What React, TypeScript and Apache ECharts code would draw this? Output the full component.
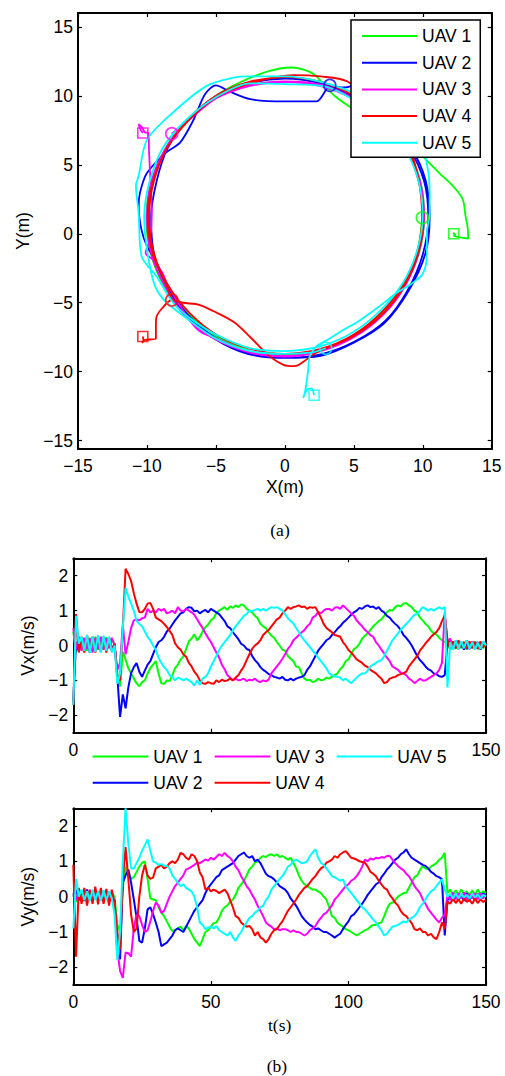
import React, { useEffect, useRef } from 'react';
import * as echarts from 'echarts';

const UAV_NAMES = ['UAV 1', 'UAV 2', 'UAV 3', 'UAV 4', 'UAV 5'];
const UAV_COLORS = ['#00ff00', '#0000ff', '#ff00ff', '#ff0000', '#00ffff'];

const XY_TICKS = [-15, -10, -5, 0, 5, 10, 15];
const V_TICKS = [-2, -1, 0, 1, 2];
const T_TICKS = [0, 50, 100, 150];
const VX_T_LABELS = [0, 150];

// start (square) and final (circle) positions
const START_POS = [[12.25, 0.0], [5.7, 11.1], [-10.3, 7.3], [-10.3, -7.45], [2.12, -11.7]];
const END_POS = [[9.97, 1.16], [3.26, 10.75], [-8.2, 7.25], [-8.2, -4.8], [2.97, -8.3]];

const XY_UAV1 = [
  [12.25, 0.0], [12.4, -0.1], [12.2, 0.08], [12.35, -0.05], [12.25, -0.15], [12.9, -0.3], [13.3, -0.35], [13.25, 0.5],
  [13.1, 1.3], [12.9, 2.5], [12.2, 3.45], [11.2, 4.4], [10.5, 5.1], [9.6, 6.0],
  [8.2, 7.2], [7.2, 8.2], [5.1, 9.8], [2.7, 10.9], [0.1, 11.3], [-2.5, 10.95], [-4.9, 9.95], [-7.0, 8.3], [-8.6, 6.3],
  [-9.6, 3.8], [-9.95, 1.2], [-9.6, -1.4], [-8.6, -3.75], [-7.0, -5.8], [-4.9, -7.4], [-2.5, -8.5], [0.1, -8.85],
  [2.6, -8.45], [5.0, -7.4], [7.1, -5.8], [8.7, -3.7], [9.75, -1.3], [10.1, 1.3], [9.8, 3.9], [8.8, 6.2],
  [7.3, 7.8], [6.4, 8.3], [5.2, 8.9], [3.6, 10.0], [2.05, 11.6], [0.5, 12.05], [-1.1, 11.8], [-3.2, 11.0], [-5.0, 10.0],
  [-7.1, 8.2], [-8.7, 6.1], [-9.7, 3.7], [-10.05, 1.1], [-9.7, -1.5], [-8.7, -3.9], [-7.1, -5.95], [-5.0, -7.5],
  [-2.6, -8.5], [0.0, -8.8], [2.6, -8.4], [5.0, -7.35], [7.0, -5.75], [8.6, -3.7], [9.6, -1.3], [9.97, 1.16],
];

const XY_UAV2 = [
  [5.7, 11.1], [5.3, 11.4], [5.0, 11.75], [5.1, 12.15], [5.4, 12.4], [5.9, 12.45], [5.6, 12.0], [5.75, 11.4], [5.6, 11.05],
  [4.3, 10.6], [3.3, 10.7], [2.3, 9.6], [0.0, 9.6], [-2.5, 9.75], [-4.0, 10.3], [-5.0, 10.75], [-5.8, 10.1], [-6.6, 8.3],
  [-7.6, 6.6], [-8.6, 5.9], [-10.0, 4.4], [-10.5, 3.0], [-10.6, 2.0], [-10.4, 0.3], [-10.0, -0.9], [-9.3, -2.1], [-8.6, -3.6],
  [-7.1, -5.8], [-5.1, -7.5], [-2.6, -8.6], [0.0, -9.0], [2.6, -8.75], [5.1, -7.8], [7.3, -6.3], [8.9, -4.1], [10.0, -1.5],
  [10.4, 1.2], [10.1, 3.8], [9.0, 6.2], [7.3, 8.2], [5.0, 9.9], [2.6, 10.9], [0.0, 11.25], [-2.6, 10.9], [-5.0, 9.9],
  [-7.0, 8.3], [-8.5, 6.2], [-9.3, 3.8], [-9.7, 1.2], [-9.5, -1.4], [-8.8, -3.3], [-7.3, -5.8], [-5.1, -7.6], [-2.7, -8.7],
  [0.0, -9.0], [2.6, -8.85], [5.0, -7.9], [7.2, -6.5], [9.0, -4.1], [10.2, -1.4], [10.5, 1.2], [10.2, 3.9], [9.1, 6.3],
  [7.3, 8.3], [5.0, 9.8], [3.26, 10.75],
];

const XY_UAV3 = [
  [-10.3, 7.3], [-10.5, 7.6], [-10.6, 7.95], [-10.35, 7.7], [-10.15, 7.35], [-9.9, 7.3],
  [-9.85, 6.0], [-9.8, 4.9], [-9.7, 3.0], [-9.65, 1.3], [-9.78, -0.4], [-10.1, -1.4], [-9.55, -1.9], [-8.9, -2.8], [-8.5, -3.7],
  [-7.1, -6.0], [-6.2, -7.05], [-4.95, -7.6], [-2.6, -8.55], [0.0, -8.85], [2.6, -8.5], [5.0, -7.5], [7.1, -5.9], [8.7, -3.8],
  [9.7, -1.4], [10.1, 1.2], [9.8, 3.8], [8.8, 6.2], [7.2, 8.2], [5.0, 9.75], [2.6, 10.7], [0.0, 11.0], [-2.6, 10.7],
  [-5.0, 9.8], [-7.1, 8.2], [-8.7, 6.1], [-9.7, 3.7], [-10.0, 1.2], [-9.7, -1.4], [-8.7, -3.8], [-7.2, -6.0], [-5.3, -7.5],
  [-2.6, -8.6], [0.0, -8.9], [2.6, -8.5], [5.0, -7.5], [7.1, -5.9], [8.7, -3.8], [9.7, -1.3], [10.05, 1.2], [9.75, 3.8],
  [8.75, 6.2], [7.2, 8.2], [5.0, 9.8], [2.6, 10.8], [0.0, 11.05], [-2.6, 10.75], [-5.0, 9.8], [-6.9, 8.3], [-8.2, 7.25],
];

const XY_UAV4 = [
  [-10.3, -7.45], [-10.25, -7.75], [-10.35, -7.9], [-10.2, -7.7],
  [-9.35, -7.6], [-9.35, -6.6], [-9.3, -6.0], [-8.9, -5.4], [-8.2, -4.8], [-7.4, -5.0], [-6.2, -5.15], [-5.2, -5.6],
  [-3.7, -6.4], [-2.5, -7.5], [-1.2, -8.8], [-0.1, -9.5], [0.7, -9.6], [1.6, -9.1], [2.3, -8.6],
  [5.0, -7.4], [7.1, -5.8], [8.7, -3.7], [9.7, -1.3], [10.05, 1.2], [9.7, 3.8], [8.8, 6.3], [7.3, 8.3], [5.1, 9.95],
  [2.6, 11.0], [0.0, 11.35], [-2.6, 11.0], [-5.0, 10.0], [-7.0, 8.3], [-8.55, 6.2], [-9.5, 3.8], [-9.85, 1.2], [-9.5, -1.4],
  [-8.5, -3.7], [-6.9, -5.75], [-4.9, -7.35], [-2.5, -8.35], [0.0, -8.7], [2.6, -8.35], [5.0, -7.3], [7.0, -5.7], [8.6, -3.6],
  [9.6, -1.3], [9.95, 1.2], [9.7, 3.9], [8.8, 6.8], [7.1, 9.0], [4.5, 11.05], [2.6, 11.4], [0.6, 11.5], [-2.5, 10.9],
  [-5.0, 9.9], [-7.0, 8.2], [-8.6, 6.1], [-9.6, 3.7], [-9.95, 1.2], [-9.6, -1.4], [-8.6, -3.7], [-8.2, -4.8],
];

const XY_UAV5 = [
  [2.12, -11.7], [1.93, -11.2], [1.6, -11.3], [1.33, -11.9], [1.45, -11.5],
  [1.57, -10.8], [1.7, -9.8], [1.8, -8.9], [2.3, -8.15], [3.14, -7.66], [4.2, -7.0], [5.4, -6.3], [6.8, -5.3], [8.1, -4.3],
  [9.2, -3.6], [10.0, -2.9], [10.3, -1.5], [10.3, 0.0], [10.5, 1.5], [10.5, 3.0], [10.4, 4.5], [10.0, 6.1], [9.0, 7.4],
  [7.6, 8.6], [5.2, 10.1], [2.6, 11.0], [0.0, 11.4], [-2.5, 11.4], [-3.8, 11.3], [-5.7, 10.7], [-8.1, 8.8], [-10.0, 6.8],
  [-10.6, 4.2], [-10.8, 3.5], [-10.6, 1.5], [-10.4, -1.6], [-9.3, -3.1], [-8.1, -5.0], [-6.9, -6.1], [-5.0, -7.3],
  [-2.5, -8.3], [0.0, -8.5], [2.6, -8.15], [5.0, -7.1], [7.0, -5.5], [8.6, -3.5], [9.6, -1.2], [10.0, 1.3], [9.7, 3.8],
  [8.7, 6.2], [7.1, 8.2], [5.0, 9.7], [3.0, 10.65], [0.0, 10.85], [-2.5, 10.9], [-5.0, 9.9], [-7.1, 8.3], [-8.8, 6.3],
  [-9.8, 3.8], [-10.2, 1.2], [-10.0, -1.1], [-9.5, -3.55], [-8.8, -4.76], [-7.3, -6.0], [-5.0, -7.6], [-2.5, -8.5],
  [0.0, -8.7], [2.0, -8.6], [2.97, -8.3],
];

// sampling times of the velocity records (s)
const TIME = Array.from({ length: 151 }, (_, i) => i);

const VX_UAV1 = [
  0.4, -0.2, 0.25, -0.1, 0.2, -0.15, 0.22, -0.05, 0.25, -0.12,
  0.2, -0.1, 0.24, -0.08, 0.18, 0.05, -0.8, -1.17, -0.18, -0.4,
  -0.65, -0.8, -0.95, -1.08, -1.17, -1.05, -1.0, -0.8, -0.65, -0.55,
  -0.45, -0.8, -1.08, -1.1, -1.0, -1.02, -0.85, -0.65, -0.55, -0.4,
  -0.32, -0.1, 0.12, 0.2, 0.32, 0.15, 0.25, 0.4, 0.52, 0.6,
  0.72, 0.78, 0.93, 1.0, 1.05, 1.1, 1.02, 1.12, 1.08, 1.15,
  1.1, 1.18, 1.15, 1.05, 1.0, 0.95, 0.85, 0.78, 0.62, 0.55,
  0.5, 0.38, 0.28, 0.22, 0.1, 0.0, -0.12, -0.15, -0.3, -0.38,
  -0.45, -0.6, -0.62, -0.8, -0.95, -1.0, -0.98, -1.05, -1.02, -0.95,
  -1.0, -0.98, -0.92, -0.95, -0.9, -0.85, -0.8, -0.68, -0.6, -0.45,
  -0.4, -0.25, -0.1, -0.05, 0.05, 0.2, 0.28, 0.35, 0.45, 0.55,
  0.62, 0.7, 0.75, 0.85, 0.95, 1.02, 1.0, 1.1, 1.15, 1.12,
  1.2, 1.22, 1.15, 1.1, 1.0, 0.95, 0.8, 0.72, 0.62, 0.55,
  0.42, 0.35, 0.32, 0.22, 0.15, 0.1, 0.05, -0.12, 0.1, -0.1,
  0.12, -0.08, 0.1, -0.12, 0.08, -0.05, 0.12, -0.1, 0.05, -0.08,
  0.05,
];
const VX_UAV2 = [
  -1.6, 0.1, -0.15, 0.2, -0.1, 0.15, -0.2, 0.18, -0.05, 0.2,
  -0.15, 0.18, -0.1, 0.2, -0.12, 0.05, -0.9, -2.05, -1.4, -1.8,
  -1.2, -0.8, -0.62, -0.5, -0.75, -0.9, -0.72, -0.55, -0.45, -0.25,
  -0.05, 0.1, 0.15, 0.25, 0.4, 0.48, 0.6, 0.72, 0.82, 0.92,
  0.95, 1.05, 1.1, 1.08, 0.98, 1.0, 0.92, 0.98, 1.02, 0.95,
  1.05, 1.0, 0.95, 0.9, 0.8, 0.7, 0.55, 0.5, 0.38, 0.28,
  0.18, 0.05, 0.0, -0.1, -0.13, -0.3, -0.42, -0.5, -0.62, -0.7,
  -0.75, -0.82, -0.85, -0.9, -0.92, -0.95, -0.9, -0.98, -1.0, -0.95,
  -1.0, -0.95, -0.92, -0.9, -0.85, -0.7, -0.6, -0.45, -0.3, -0.15,
  -0.05, 0.05, 0.15, 0.2, 0.3, 0.38, 0.48, 0.55, 0.65, 0.72,
  0.8, 0.88, 0.95, 1.0, 1.08, 1.05, 1.12, 1.15, 1.1, 1.12,
  1.05, 1.1, 1.0, 0.95, 0.85, 0.8, 0.7, 0.62, 0.55, 0.45,
  0.3, 0.22, 0.12, 0.0, -0.15, -0.3, -0.42, -0.5, -0.6, -0.68,
  -0.72, -0.8, -0.82, -0.88, -0.9, -0.85, 0.05, 0.15, -0.1, 0.12,
  -0.1, 0.1, -0.12, 0.08, -0.1, 0.12, -0.08, 0.1, -0.12, 0.08,
  0.0,
];
const VX_UAV3 = [
  0.5, -0.1, 0.25, -0.15, 0.22, -0.1, 0.2, -0.2, 0.22, -0.1,
  0.25, -0.12, 0.2, -0.08, 0.22, 0.0, -0.7, -0.5, 0.6, -0.25,
  0.1, 0.5, 0.72, 0.75, 0.72, 0.78, 0.8, 1.05, 0.95, 1.0,
  0.95, 1.05, 1.0, 1.05, 0.92, 0.95, 1.0, 0.92, 1.1, 1.0,
  0.98, 1.05, 1.0, 0.95, 0.88, 0.75, 0.62, 0.5, 0.35, 0.22,
  0.1, -0.05, -0.2, -0.35, -0.55, -0.68, -0.85, -0.92, -1.0, -0.95,
  -1.0, -0.98, -0.95, -1.02, -0.98, -1.0, -0.95, -1.02, -1.05, -1.0,
  -1.03, -0.98, -0.8, -0.7, -0.6, -0.5, -0.38, -0.25, -0.1, 0.0,
  0.15, 0.22, 0.3, 0.38, 0.44, 0.55, 0.62, 0.8, 0.85, 0.96,
  0.92, 1.0, 1.05, 1.05, 1.0, 1.08, 1.1, 1.05, 1.15, 1.08,
  1.0, 0.92, 0.85, 0.72, 0.63, 0.55, 0.45, 0.38, 0.3, 0.25,
  0.1, 0.0, -0.12, -0.23, -0.35, -0.45, -0.6, -0.65, -0.7, -0.78,
  -0.8, -0.85, -0.95, -1.0, -1.08, -1.02, -0.95, -1.0, -1.0, -0.95,
  -0.9, -0.85, -0.8, -0.7, -0.5, 0.95, 0.1, 0.2, -0.1, 0.15,
  -0.1, 0.1, -0.05, 0.15, -0.08, 0.12, -0.1, 0.08, -0.05, 0.1,
  0.05,
];
const VX_UAV4 = [
  -1.7, 0.9, -0.2, 0.25, -0.2, 0.3, -0.15, 0.25, -0.2, 0.28,
  -0.18, 0.25, -0.2, 0.22, -0.15, 0.05, -0.9, -1.0, 0.5, 2.2,
  2.05, 1.85, 1.5, 1.2, 0.96, 0.95, 1.05, 1.2, 1.22, 1.05,
  0.8, 0.75, 0.7, 0.62, 0.53, 0.42, 0.3, 0.06, -0.05, -0.12,
  -0.25, -0.32, -0.5, -0.6, -0.75, -0.85, -1.0, -1.08, -1.1, -1.05,
  -1.08, -1.1, -1.0, -1.05, -0.98, -1.02, -1.0, -0.95, -1.0, -0.92,
  -0.85, -0.72, -0.6, -0.42, -0.25, -0.1, 0.0, 0.06, 0.15, 0.3,
  0.38, 0.44, 0.55, 0.65, 0.75, 0.8, 0.92, 1.0, 1.1, 1.05,
  1.1, 1.12, 1.15, 1.1, 1.12, 1.05, 1.1, 1.08, 1.1, 0.95,
  0.8, 0.62, 0.5, 0.44, 0.38, 0.3, 0.28, 0.25, 0.1, 0.0,
  -0.13, -0.2, -0.3, -0.4, -0.45, -0.5, -0.58, -0.62, -0.7, -0.75,
  -0.8, -0.88, -0.95, -1.08, -1.05, -0.95, -0.92, -0.9, -0.85, -0.82,
  -0.8, -0.75, -0.6, -0.5, -0.4, -0.3, -0.15, -0.05, 0.06, 0.15,
  0.25, 0.32, 0.39, 0.5, 0.7, 0.86, 0.15, -0.1, 0.12, -0.08,
  0.15, -0.05, 0.1, -0.1, 0.12, -0.08, 0.1, -0.1, 0.12, -0.05,
  0.1,
];
const VX_UAV5 = [
  -1.7, 0.85, 0.05, 0.25, -0.15, 0.3, -0.2, 0.25, -0.18, 0.3,
  -0.2, 0.28, -0.15, 0.25, -0.2, 0.0, -1.1, -0.8, 0.5, 1.65,
  1.4, 1.2, 1.0, 0.7, 0.62, 0.55, 0.4, 0.25, 0.15, 0.0,
  -0.13, -0.35, -0.5, -0.62, -0.7, -0.85, -0.9, -1.0, -0.92, -0.95,
  -1.0, -0.95, -1.0, -1.05, -1.15, -1.0, -1.13, -0.95, -0.9, -0.8,
  -0.6, -0.45, -0.3, -0.13, 0.0, 0.1, 0.2, 0.3, 0.44, 0.55,
  0.65, 0.75, 0.85, 0.9, 1.0, 0.98, 1.02, 1.05, 1.0, 1.05,
  1.0, 1.05, 1.1, 1.08, 1.1, 1.05, 1.0, 0.9, 0.78, 0.7,
  0.63, 0.5, 0.38, 0.25, 0.15, 0.05, -0.05, -0.15, -0.23, -0.35,
  -0.45, -0.55, -0.65, -0.8, -0.85, -0.88, -0.9, -0.92, -1.0, -0.95,
  -1.02, -1.08, -1.0, -0.92, -0.85, -0.8, -0.8, -0.72, -0.6, -0.55,
  -0.5, -0.45, -0.42, -0.3, -0.15, 0.0, 0.15, 0.25, 0.35, 0.45,
  0.53, 0.62, 0.7, 0.8, 0.88, 0.9, 1.0, 1.1, 1.05, 1.0,
  1.05, 1.0, 1.05, 1.1, 1.05, 1.1, -1.2, 0.1, -0.12, 0.15,
  -0.1, 0.12, -0.08, 0.15, -0.1, 0.1, -0.12, 0.08, -0.1, 0.12,
  0.0,
];

const VY_UAV1 = [
  0.1, -0.15, 0.15, -0.1, 0.12, -0.1, 0.15, -0.08, 0.12, -0.12,
  0.1, -0.1, 0.15, -0.05, 0.1, 0.0, -0.8, -1.0, 0.3, 0.85,
  0.7, 0.5, 0.55, 0.7, 0.85, 0.96, 1.0, 0.5, -0.05, -0.08,
  -0.1, -0.3, -0.45, -0.55, -0.7, -0.85, -0.97, -0.95, -0.9, -0.85,
  -0.95, -0.83, -0.9, -1.05, -1.2, -1.3, -1.4, -1.2, -1.0, -0.95,
  -0.85, -0.75, -0.73, -0.6, -0.4, -0.3, -0.25, -0.15, -0.08, 0.05,
  0.25, 0.35, 0.45, 0.6, 0.77, 0.85, 0.96, 1.0, 1.1, 1.15,
  1.12, 1.18, 1.2, 1.15, 1.2, 1.12, 1.15, 1.1, 1.05, 1.1,
  0.95, 0.8, 0.6, 0.45, 0.35, 0.3, 0.25, 0.2, 0.2, 0.15,
  0.1, 0.0, -0.08, -0.3, -0.55, -0.6, -0.73, -0.8, -0.85, -0.92,
  -0.95, -1.0, -1.05, -1.1, -1.05, -1.0, -0.95, -0.92, -0.85, -0.8,
  -0.8, -0.75, -0.73, -0.55, -0.35, -0.2, -0.17, -0.1, 0.0, 0.05,
  0.1, 0.11, 0.25, 0.4, 0.55, 0.6, 0.75, 0.87, 0.8, 0.77,
  0.85, 0.9, 0.95, 1.05, 1.1, 1.24, 0.1, 0.2, 0.05, 0.18,
  0.05, 0.2, 0.08, 0.15, 0.02, 0.18, 0.05, 0.2, 0.08, 0.15,
  0.1,
];
const VY_UAV2 = [
  0.0, 0.2, -0.1, 0.15, -0.12, 0.2, -0.1, 0.15, -0.05, 0.12,
  -0.1, 0.15, -0.08, 0.12, -0.1, -0.1, -1.6, -1.77, 0.4, 0.6,
  0.77, 0.4, -0.08, -0.6, -1.25, -1.3, -0.9, -0.36, -0.3, -0.5,
  -0.74, -1.0, -1.4, -1.35, -1.3, -1.2, -1.1, -0.95, -0.9, -0.95,
  -1.0, -0.85, -0.7, -0.55, -0.4, -0.3, -0.2, -0.1, 0.1, 0.25,
  0.35, 0.45, 0.55, 0.6, 0.75, 0.8, 0.85, 0.9, 0.95, 1.05,
  1.15, 1.2, 1.25, 1.15, 1.1, 1.15, 1.0, 1.05, 0.95, 0.8,
  0.65, 0.58, 0.55, 0.49, 0.4, 0.3, 0.25, 0.2, 0.1, -0.05,
  -0.15, -0.26, -0.4, -0.55, -0.65, -0.73, -0.8, -0.85, -0.92, -0.9,
  -0.95, -1.0, -1.0, -1.05, -1.1, -1.16, -1.1, -1.05, -0.92, -0.8,
  -0.7, -0.55, -0.5, -0.4, -0.3, -0.2, -0.08, 0.05, 0.15, 0.25,
  0.35, 0.4, 0.55, 0.65, 0.77, 0.85, 0.95, 1.05, 1.1, 1.2,
  1.25, 1.34, 1.2, 1.1, 1.05, 1.0, 0.95, 0.9, 0.87, 0.8,
  0.7, 0.65, 0.58, 0.55, 0.49, -1.1, -0.1, 0.05, -0.12, 0.08,
  -0.1, 0.05, -0.12, 0.1, -0.08, 0.05, -0.1, 0.08, -0.05, 0.1,
  0.0,
];
const VY_UAV3 = [
  0.1, -0.1, 0.15, -0.1, 0.12, -0.08, 0.15, -0.1, 0.12, -0.05,
  0.1, -0.1, 0.12, -0.08, 0.1, -0.2, -1.5, -2.1, -2.3, -1.58,
  -1.6, -1.7, -0.9, -0.5, -0.55, -0.8, -1.0, -0.95, -0.7, -0.4,
  -0.17, -0.25, -0.45, -0.4, -0.2, 0.0, 0.15, 0.3, 0.4, 0.5,
  0.6, 0.77, 0.8, 0.85, 0.9, 0.96, 0.95, 1.0, 1.05, 1.02,
  1.1, 1.05, 1.12, 1.2, 1.15, 1.24, 1.15, 1.1, 1.0, 0.85,
  0.75, 0.58, 0.45, 0.3, 0.2, 0.05, -0.08, -0.26, -0.4, -0.55,
  -0.73, -0.8, -0.85, -0.92, -0.9, -0.95, -0.92, -0.92, -0.95, -1.0,
  -0.95, -1.0, -1.0, -1.05, -1.1, -1.05, -0.95, -0.9, -0.83, -0.7,
  -0.6, -0.5, -0.45, -0.35, -0.25, -0.08, 0.0, 0.1, 0.2, 0.3,
  0.35, 0.45, 0.5, 0.58, 0.7, 0.85, 1.05, 1.0, 1.08, 1.05,
  1.1, 1.08, 1.12, 1.1, 1.15, 1.15, 1.05, 0.95, 0.87, 0.8,
  0.75, 0.65, 0.58, 0.45, 0.3, 0.2, 0.1, -0.08, -0.2, -0.35,
  -0.45, -0.55, -0.65, -0.73, -0.6, -0.5, 0.05, -0.1, 0.12, -0.08,
  0.1, -0.05, 0.12, -0.1, 0.08, -0.05, 0.1, -0.08, 0.1, -0.05,
  0.05,
];
const VY_UAV4 = [
  0.9, -1.7, 0.25, -0.2, 0.25, -0.25, 0.2, -0.2, 0.28, -0.22,
  0.25, -0.2, 0.22, -0.25, 0.2, -0.2, -1.0, -1.5, 0.5, 1.4,
  0.5, -0.5, -1.0, -0.9, 0.0, 0.6, 0.9, 0.6, 0.5, 0.54,
  0.8, 0.85, 0.9, 0.8, 0.85, 0.95, 1.0, 0.95, 1.05, 1.24,
  1.2, 1.1, 1.05, 1.2, 1.15, 1.0, 0.68, 0.55, 0.2, 0.25,
  0.15, 0.2, 0.16, 0.1, 0.15, 0.2, 0.1, -0.1, -0.3, -0.55,
  -0.6, -0.73, -0.8, -0.85, -0.83, -0.92, -1.1, -1.0, -1.15, -1.2,
  -1.3, -1.2, -1.05, -0.95, -0.92, -0.8, -0.7, -0.55, -0.4, -0.3,
  -0.2, -0.08, 0.05, 0.15, 0.25, 0.3, 0.4, 0.5, 0.58, 0.7,
  0.8, 0.85, 0.96, 1.0, 1.05, 1.15, 1.1, 1.2, 1.25, 1.29,
  1.2, 1.1, 1.08, 1.05, 1.0, 0.98, 0.96, 0.85, 0.7, 0.65,
  0.58, 0.45, 0.35, 0.25, 0.2, 0.05, -0.05, -0.17, -0.25, -0.4,
  -0.5, -0.55, -0.65, -0.75, -0.92, -0.95, -0.9, -1.0, -1.0, -1.1,
  -1.05, -1.15, -1.2, -1.0, -0.73, -0.92, -0.15, -0.2, -0.05, -0.18,
  -0.08, -0.2, -0.05, -0.15, -0.1, -0.2, -0.05, -0.18, -0.08, -0.15,
  -0.1,
];
const VY_UAV5 = [
  -0.9, 0.5, 0.0, 0.2, -0.1, 0.15, -0.12, 0.2, -0.1, 0.15,
  -0.12, 0.18, -0.1, 0.15, -0.05, -0.5, -1.8, -1.0, 1.0, 2.5,
  1.5, 0.8, 0.8, 0.95, 1.1, 1.3, 1.45, 1.62, 1.3, 1.0,
  0.96, 0.9, 0.92, 0.88, 0.87, 0.8, 0.6, 0.5, 0.4, 0.3,
  0.35, 0.25, 0.2, 0.15, 0.0, -0.3, -0.73, -0.8, -0.92, -0.88,
  -0.85, -0.9, -0.83, -0.95, -1.0, -1.05, -1.1, -1.0, -1.15, -1.25,
  -1.1, -1.0, -0.85, -0.73, -0.6, -0.55, -0.45, -0.4, -0.3, -0.26,
  -0.1, 0.0, 0.2, 0.3, 0.4, 0.5, 0.58, 0.7, 0.85, 0.9,
  1.0, 1.05, 1.0, 0.95, 0.96, 1.0, 1.15, 1.25, 1.34, 1.1,
  0.96, 0.9, 0.8, 0.7, 0.58, 0.55, 0.5, 0.45, 0.49, 0.3,
  0.2, 0.11, 0.0, -0.1, -0.2, -0.3, -0.36, -0.45, -0.55, -0.65,
  -0.73, -0.85, -0.95, -1.1, -1.05, -0.95, -0.85, -0.83, -0.8, -0.75,
  -0.7, -0.73, -0.65, -0.6, -0.55, -0.45, -0.3, -0.2, -0.08, 0.05,
  0.15, 0.2, 0.3, 0.4, 0.49, 0.2, 0.0, 0.08, -0.05, 0.1,
  -0.05, 0.08, -0.02, 0.05, -0.05, 0.08, -0.02, 0.06, -0.05, 0.05,
  0.0,
];

const XY_PATHS = [XY_UAV1, XY_UAV2, XY_UAV3, XY_UAV4, XY_UAV5];
const VX_SERIES = [VX_UAV1, VX_UAV2, VX_UAV3, VX_UAV4, VX_UAV5];
const VY_SERIES = [VY_UAV1, VY_UAV2, VY_UAV3, VY_UAV4, VY_UAV5];

const FONT = "'Liberation Sans', Arial, Helvetica, sans-serif";
const SERIF = "'Liberation Serif', 'Times New Roman', Times, serif";
const FS = 17.5;

const minusFmt = (v: number | string) => String(v).replace('-', '\u2212');

function axisLine() {
  return { show: true, onZero: false, lineStyle: { color: '#000', width: 2 } };
}
function ticks(vals: number[]) {
  return { show: true, inside: true, length: 4, customValues: vals, lineStyle: { color: '#000', width: 1.2 } };
}
function labels(vals: number[], margin: number) {
  return {
    show: true, customValues: vals, color: '#000', fontSize: FS, fontFamily: FONT, margin,
    formatter: (v: number) => minusFmt(v),
  };
}

function buildOption() {
  const grid = [
    { left: 78, top: 13, width: 413.7, height: 436 },
    { left: 73.3, top: 558.3, width: 412.7, height: 174.4 },
    { left: 73.3, top: 808.3, width: 412.7, height: 176.7 },
  ];
  const nameStyle = { color: '#000', fontSize: FS, fontFamily: FONT };
  const xAxis: any[] = [
    { type: 'value', gridIndex: 0, position: 'bottom', min: -15, max: 15, axisLine: axisLine(), axisTick: ticks(XY_TICKS), axisLabel: labels(XY_TICKS, 8), splitLine: { show: false }, name: 'X(m)', nameLocation: 'middle', nameGap: 29, nameTextStyle: nameStyle },
    { type: 'value', gridIndex: 0, position: 'top', min: -15, max: 15, axisLine: axisLine(), axisTick: ticks(XY_TICKS), axisLabel: { show: false }, splitLine: { show: false } },
    { type: 'value', gridIndex: 1, position: 'bottom', min: 0, max: 150, axisLine: axisLine(), axisTick: ticks(T_TICKS), axisLabel: labels(VX_T_LABELS, 8), splitLine: { show: false } },
    { type: 'value', gridIndex: 1, position: 'top', min: 0, max: 150, axisLine: axisLine(), axisTick: ticks(T_TICKS), axisLabel: { show: false }, splitLine: { show: false } },
    { type: 'value', gridIndex: 2, position: 'bottom', min: 0, max: 150, axisLine: axisLine(), axisTick: ticks(T_TICKS), axisLabel: labels(T_TICKS, 8), splitLine: { show: false }, name: 't(s)', nameLocation: 'middle', nameGap: 31, nameTextStyle: { color: '#000', fontSize: FS, fontFamily: SERIF } },
    { type: 'value', gridIndex: 2, position: 'top', min: 0, max: 150, axisLine: axisLine(), axisTick: ticks(T_TICKS), axisLabel: { show: false }, splitLine: { show: false } },
  ];
  const yAxis: any[] = [
    { type: 'value', gridIndex: 0, position: 'left', min: -15.6, max: 16, axisLine: axisLine(), axisTick: ticks(XY_TICKS), axisLabel: labels(XY_TICKS, 5), splitLine: { show: false }, name: 'Y(m)', nameLocation: 'middle', nameGap: 43, nameTextStyle: nameStyle },
    { type: 'value', gridIndex: 0, position: 'right', min: -15.6, max: 16, axisLine: axisLine(), axisTick: ticks(XY_TICKS), axisLabel: { show: false }, splitLine: { show: false } },
    { type: 'value', gridIndex: 1, position: 'left', min: -2.5, max: 2.5, axisLine: axisLine(), axisTick: ticks(V_TICKS), axisLabel: labels(V_TICKS, 5), splitLine: { show: false }, name: 'Vx(m/s)', nameLocation: 'middle', nameGap: 35, nameTextStyle: nameStyle },
    { type: 'value', gridIndex: 1, position: 'right', min: -2.5, max: 2.5, axisLine: axisLine(), axisTick: ticks(V_TICKS), axisLabel: { show: false }, splitLine: { show: false } },
    { type: 'value', gridIndex: 2, position: 'left', min: -2.5, max: 2.5, axisLine: axisLine(), axisTick: ticks(V_TICKS), axisLabel: labels(V_TICKS, 5), splitLine: { show: false }, name: 'Vy(m/s)', nameLocation: 'middle', nameGap: 35, nameTextStyle: nameStyle },
    { type: 'value', gridIndex: 2, position: 'right', min: -2.5, max: 2.5, axisLine: axisLine(), axisTick: ticks(V_TICKS), axisLabel: { show: false }, splitLine: { show: false } },
  ];

  const series: any[] = [];
  XY_PATHS.forEach((path, i) => {
    series.push({
      type: 'line', name: UAV_NAMES[i], xAxisIndex: 0, yAxisIndex: 0, data: path,
      symbol: 'none', smooth: 0.3, color: UAV_COLORS[i],
      lineStyle: { color: UAV_COLORS[i], width: 1.8 },
    });
  });
  UAV_NAMES.forEach((n, i) => {
    series.push({
      type: 'scatter', name: n + ' markers', xAxisIndex: 0, yAxisIndex: 0,
      data: [
        { value: START_POS[i], symbol: 'rect', symbolSize: 10 },
        { value: END_POS[i], symbol: 'circle', symbolSize: 12 },
      ],
      itemStyle: { color: 'rgba(0,0,0,0)', borderColor: UAV_COLORS[i], borderWidth: 1.6 },
      z: 3,
    });
  });
  VX_SERIES.forEach((vals, i) => {
    series.push({
      type: 'line', name: UAV_NAMES[i], xAxisIndex: 2, yAxisIndex: 2,
      data: vals.map((v, k) => [TIME[k], v]), symbol: 'none', color: UAV_COLORS[i],
      lineStyle: { color: UAV_COLORS[i], width: 2 },
    });
  });
  VY_SERIES.forEach((vals, i) => {
    series.push({
      type: 'line', name: UAV_NAMES[i], xAxisIndex: 4, yAxisIndex: 4,
      data: vals.map((v, k) => [TIME[k], v]), symbol: 'none', color: UAV_COLORS[i],
      lineStyle: { color: UAV_COLORS[i], width: 2 },
    });
  });

  const legendText = { color: '#000', fontSize: FS, fontFamily: FONT };
  const legend: any[] = [
    {
      data: UAV_NAMES, orient: 'vertical', left: 351, top: 20, padding: [7, 9, 5.5, 11], itemGap: 8.7,
      icon: 'rect', itemWidth: 55, itemHeight: 2, backgroundColor: '#fff', borderColor: '#000', borderWidth: 1.5,
      textStyle: legendText, selectedMode: false,
    },
    {
      data: ['UAV 1', 'UAV 3', 'UAV 5'], orient: 'horizontal', left: 92.7, top: 747.5, padding: 0, itemGap: 12.1,
      icon: 'rect', itemWidth: 55.6, itemHeight: 2, textStyle: legendText, selectedMode: false,
    },
    {
      data: ['UAV 2', 'UAV 4'], orient: 'horizontal', left: 92.7, top: 773.8, padding: 0, itemGap: 12.1,
      icon: 'rect', itemWidth: 55.6, itemHeight: 2, textStyle: legendText, selectedMode: false,
    },
  ];

  const graphic = [
    { type: 'text', x: 280, y: 530, style: { text: '(a)', fontSize: FS, fontFamily: SERIF, fill: '#000', align: 'center', verticalAlign: 'middle' } },
    { type: 'text', x: 277, y: 1066, style: { text: '(b)', fontSize: FS, fontFamily: SERIF, fill: '#000', align: 'center', verticalAlign: 'middle' } },
  ];

  return { animation: false, backgroundColor: '#fff', grid, xAxis, yAxis, series, legend, graphic };
}

export default function App() {
  const ref = useRef<HTMLDivElement>(null);
  useEffect(() => {
    const chart = echarts.init(ref.current!, null, { renderer: 'svg' });
    chart.setOption(buildOption() as any);
    return () => chart.dispose();
  }, []);
  return <div ref={ref} style={{ position: 'absolute', left: 0, top: 0, width: 505, height: 1076 }} />;
}
